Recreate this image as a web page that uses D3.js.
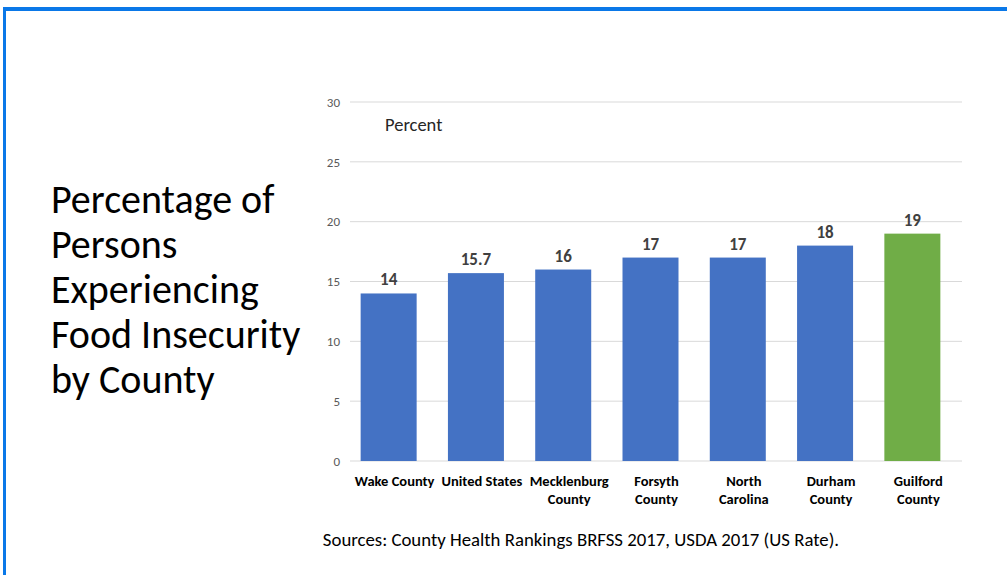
<!DOCTYPE html>
<html><head><meta charset="utf-8">
<script src="https://cdn.jsdelivr.net/npm/d3@7"></script>
<style>html,body{margin:0;padding:0;background:#fff;}svg{display:block;}</style>
</head><body>
<script>
const categories = [["Wake County"],["United States"],["Mecklenburg","County"],["Forsyth","County"],["North","Carolina"],["Durham","County"],["Guilford","County"]];
const values = [14, 15.7, 16, 17, 17, 18, 19];
const barColors = ["#4472c4","#4472c4","#4472c4","#4472c4","#4472c4","#4472c4","#70ad47"];
const yTicks = [0,5,10,15,20,25,30];
const titleLines = ["Percentage of","Persons","Experiencing","Food Insecurity","by County"];
const axisTitle = "Percent";
const sourceText = "Sources: County Health Rankings BRFSS 2017, USDA 2017 (US Rate).";

const W = 1007, H = 575;
const svg = d3.select("body").append("svg").attr("width", W).attr("height", H);

// slide border
svg.append("rect").attr("x",3).attr("y",7).attr("width",W).attr("height",4).attr("fill","#0a78e8");
svg.append("rect").attr("x",3).attr("y",7).attr("width",3).attr("height",H).attr("fill","#0a78e8");

const font = "Calibri, Carlito, Lato, 'Open Sans', sans-serif";

// title
svg.append("g").selectAll("text").data(titleLines).join("text")
  .attr("x", 51).attr("y", (d,i) => 213 + i*45)
  .attr("font-family", font).attr("font-size", 40).attr("fill", "#000")
  .text(d => d);

const x = d3.scaleBand().domain(d3.range(categories.length)).range([345, 956]).paddingInner(0.36).paddingOuter(0.18);
const y = d3.scaleLinear().domain([0, 30]).range([461, 102]);

// gridlines
svg.append("g").selectAll("line").data(yTicks).join("line")
  .attr("x1", 350).attr("x2", 962).attr("y1", d => y(d)).attr("y2", d => y(d))
  .attr("stroke", "#d9d9d9").attr("stroke-width", 1);

// y axis labels
const yAxis = d3.axisLeft(y).tickValues(yTicks).tickSize(0).tickPadding(0);
const ya = svg.append("g").attr("transform", "translate(340,0)").call(yAxis);
ya.select(".domain").remove();
ya.selectAll("text").attr("font-family", font).attr("font-size", 13).attr("fill", "#595959");

// bars
const bw = 56;
svg.append("g").selectAll("rect").data(values).join("rect")
  .attr("x", (d,i) => x(i) + x.bandwidth()/2 - bw/2)
  .attr("width", bw)
  .attr("y", d => y(d)).attr("height", d => y(0) - y(d))
  .attr("fill", (d,i) => barColors[i]);

// value labels
svg.append("g").selectAll("text").data(values).join("text")
  .attr("x", (d,i) => x(i) + x.bandwidth()/2)
  .attr("y", d => y(d) - 8)
  .attr("text-anchor", "middle").attr("font-family", font).attr("font-weight", "bold")
  .attr("font-size", 17).attr("fill", "#404040")
  .text(d => d);

// category labels
const cg = svg.append("g").selectAll("text").data(categories).join("text")
  .attr("text-anchor", "middle").attr("font-family", font).attr("font-weight", "bold")
  .attr("font-size", 14.5).attr("fill", "#000");
cg.selectAll("tspan").data((d,i) => d.map(l => ({l, i}))).join("tspan")
  .attr("x", d => x(d.i) + x.bandwidth()/2 + 6)
  .attr("y", (d,j) => 486 + j*18)
  .text(d => d.l);

// axis title
svg.append("text").attr("x", 385).attr("y", 131).attr("font-family", font).attr("font-size", 18.5).attr("fill", "#262626").text(axisTitle);

// source
svg.append("text").attr("x", 581).attr("y", 546).attr("text-anchor", "middle").attr("font-family", font).attr("font-size", 18.8).attr("fill", "#000").text(sourceText);
</script>
</body></html>
